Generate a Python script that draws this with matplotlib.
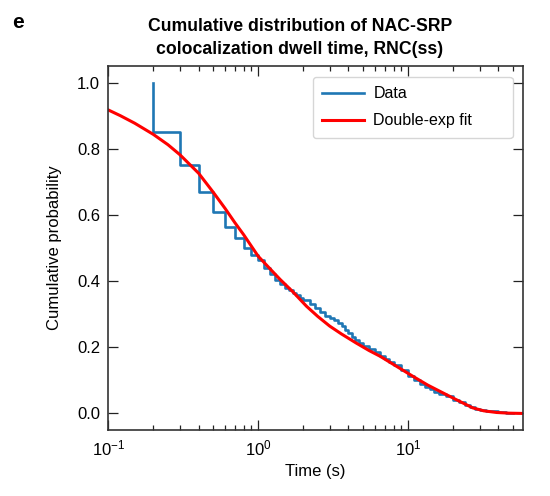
import matplotlib
matplotlib.use("Agg")
import matplotlib.pyplot as plt
from matplotlib.ticker import LogLocator, NullFormatter

plt.rcParams['font.family'] = ['Liberation Sans', 'DejaVu Sans']

# measured dwell times (s) and the survival level right after each step
data_t = [0.2, 0.3, 0.4, 0.5, 0.6, 0.7, 0.8, 0.9, 1.0, 1.1, 1.2, 1.3, 1.4,
          1.5, 1.6, 1.7, 1.8, 1.9, 2.0, 2.2, 2.4, 2.6, 2.8, 3.0, 3.2, 3.4,
          3.6, 3.8, 4.0, 4.2, 4.4, 4.7, 5.0, 5.5, 6.0, 6.5, 7.0, 7.5, 8.0,
          9.0, 10, 11, 12, 13, 14, 15, 16, 18, 20, 22, 24, 26, 28, 30, 33,
          36, 40, 45, 50]
data_p = [0.851, 0.750, 0.669, 0.609, 0.563, 0.531, 0.500, 0.480, 0.464,
          0.441, 0.420, 0.404, 0.391, 0.380, 0.372, 0.365, 0.357, 0.349,
          0.342, 0.330, 0.318, 0.306, 0.296, 0.289, 0.281, 0.272, 0.263,
          0.252, 0.242, 0.231, 0.222, 0.212, 0.204, 0.194, 0.185, 0.175,
          0.165, 0.155, 0.147, 0.132, 0.112, 0.101, 0.090, 0.081, 0.073,
          0.066, 0.059, 0.052, 0.042, 0.034, 0.026, 0.020, 0.014, 0.011,
          0.008, 0.006, 0.004, 0.002, 0.001]

# double-exponential fit
fit_t = [0.1, 0.12, 0.15, 0.2, 0.25, 0.3, 0.4, 0.5, 0.6, 0.7, 0.8, 1.0,
         1.2, 1.4, 1.7, 2.1, 2.5, 3.0, 3.6, 4.5, 5.5, 6.5, 8.0, 10.8, 13.5,
         18, 22, 27, 32, 39, 47, 60]
fit_p = [0.917, 0.900, 0.877, 0.843, 0.812, 0.782, 0.726, 0.669, 0.620,
         0.576, 0.540, 0.475, 0.437, 0.405, 0.368, 0.324, 0.293, 0.264,
         0.240, 0.213, 0.190, 0.173, 0.148, 0.112, 0.086, 0.057, 0.037,
         0.017, 0.008, 0.003, 0.001, 0.0]

fig = plt.figure(figsize=(5.5, 4.96), dpi=100)
ax = fig.add_axes([0.197, 0.133, 0.754, 0.734])

ax.step([data_t[0]] + data_t, [1.0] + data_p, where='post',
        color='#1f77b4', lw=1.9, label='Data')
ax.plot(fit_t, fit_p, color='red', lw=2.2, label='Double-exp fit')

ax.set_xscale('log')
ax.set_xlim(0.1, 58.5)
ax.set_ylim(-0.05, 1.05)
ax.set_yticks([0.0, 0.2, 0.4, 0.6, 0.8, 1.0])
ax.xaxis.set_minor_locator(LogLocator(base=10, subs=range(2, 10)))
ax.xaxis.set_minor_formatter(NullFormatter())

ax.tick_params(which='both', direction='in', top=True, right=True,
               labelsize=12, width=0.9, colors='#222222', labelcolor='black')
ax.tick_params(which='major', length=7.5, pad=6)
ax.tick_params(which='minor', length=3.5)
for sp in ax.spines.values():
    sp.set_linewidth(1.2)
    sp.set_color('#333333')

ax.set_xlabel('Time (s)', fontsize=12, labelpad=4)
ax.set_ylabel('Cumulative probability', fontsize=12, labelpad=11)

leg = ax.legend(loc='upper left', bbox_to_anchor=(0.493, 0.97, 0.482, 0.0),
                mode='expand', borderaxespad=0, fontsize=11.5,
                handlelength=2.6, handletextpad=0.6,
                borderpad=0.6, labelspacing=0.75, fancybox=True)
leg.get_frame().set_edgecolor('#cccccc')
leg.get_frame().set_linewidth(1.0)

fig.text(300 / 550, 1 - 38 / 496,
         'Cumulative distribution of NAC-SRP\ncolocalization dwell time, RNC(ss)',
         ha='center', va='center', fontsize=12.7, fontweight='bold',
         linespacing=1.45)
fig.text(12 / 550, 1 - 22 / 496, 'e', ha='left', va='center',
         fontsize=15, fontweight='bold')

fig.savefig('out.png', dpi=100)
